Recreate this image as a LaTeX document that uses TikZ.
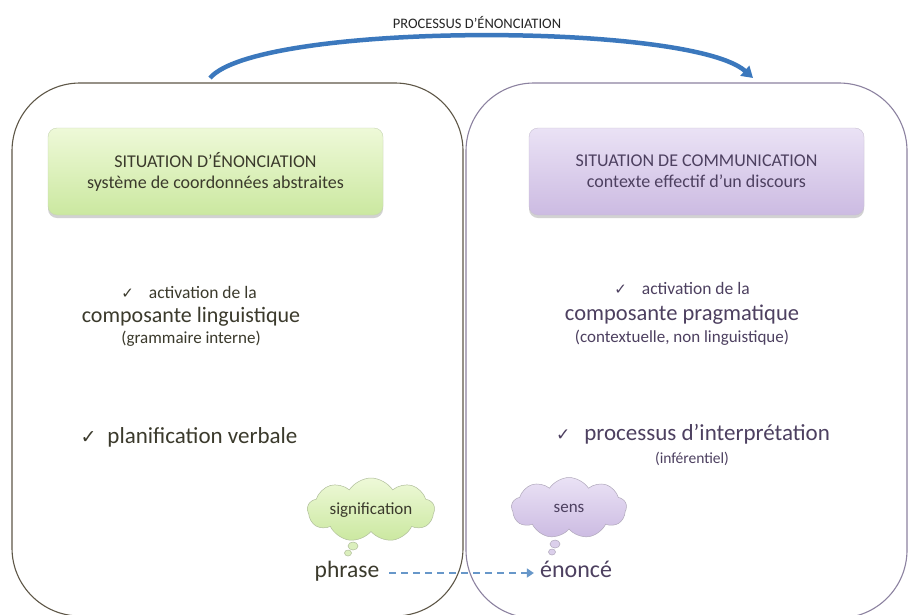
\documentclass[tikz,border=0pt]{standalone}
\usepackage{fontspec}
\setmainfont{Carlito}
\newfontfamily\symfont{DejaVu Sans}
\usetikzlibrary{arrows.meta,shapes.symbols,shadows}
\definecolor{encreG}{HTML}{3B3A2C}
\definecolor{encreD}{HTML}{4D4060}
\definecolor{traitG}{HTML}{5E5747}
\definecolor{traitD}{HTML}{8C82A0}
\definecolor{bleuArc}{HTML}{3B78BD}
\definecolor{bleuTiret}{HTML}{6797C9}
\definecolor{vertHaut}{HTML}{EEF9D8}
\definecolor{vertBas}{HTML}{CBE8A0}
\definecolor{violetHaut}{HTML}{EAE2F5}
\definecolor{violetBas}{HTML}{CCBBE2}
\newcommand{\coche}[1]{{\symfont\fontsize{#1}{#1}\selectfont ✓}}
\newcommand{\taille}[1]{\fontsize{#1}{#1}\selectfont}

\begin{document}
\begin{tikzpicture}[x=1pt, y=-1pt,
	grandcadre/.style={line width=1.1pt, rounded corners=68pt},
	boite/.style={rounded corners=9pt, line width=0.4pt, minimum width=335pt, minimum height=87pt,
		align=center, font=\fontsize{18}{21}\selectfont,
		drop shadow={opacity=0.35, shadow xshift=0pt, shadow yshift=-3pt}},
	texte/.style={anchor=base, inner sep=2pt},
	nuage/.style={cloud, cloud puffs=9, cloud puff arc=115, cloud ignores aspect, line width=0.5pt, inner sep=2pt, font=\taille{17}},
	bulle/.style={line width=0.5pt}]
		%%%%% START %%%%%
		
		\useasboundingbox (0,0) rectangle (909,614);
		\clip (0,0) rectangle (909,614);
		\fill[white] (0,0) rectangle (909,614);
		
		\draw[grandcadre, draw=traitG] (12,83) rectangle (463,616);
		\draw[grandcadre, draw=traitD] (466,83) rectangle (907,618);
		
		\node[texte, text=black!85] (titre) at (477,28) {\taille{14.5}PROCESSUS D’ÉNONCIATION};
		\coordinate (depart) at (210,78);
		\coordinate (arrivee) at (753,78);
		\draw[line width=4.5pt, color=bleuArc, -{Triangle[length=11pt,width=13pt]}] (depart) .. controls (258,22) and (690,22) .. (arrivee);
		
		\node[boite, draw=vertBas!80!black!60, top color=vertHaut, bottom color=vertBas, text=encreG] (sitEnon) at (215.5,171.5) {SITUATION D’ÉNONCIATION\\système de coordonnées abstraites};
		\node[boite, draw=violetBas!80!black!60, top color=violetHaut, bottom color=violetBas, text=encreD] (sitComm) at (696.5,171.5) {SITUATION DE COMMUNICATION\\contexte effectif d’un discours};
		
		\node[texte, text=encreG] (activG) at (189,298) {\taille{17.5}\coche{15}\hspace{15pt}activation de la};
		\node[texte, text=encreG] (compG) at (191,322) {\taille{22}composante linguistique};
		\node[texte, text=encreG] (grammG) at (191,343) {\taille{17}(grammaire interne)};
		\node[texte, text=encreG] (planG) at (189,443) {\taille{23}\coche{19}\hspace{11pt}planification verbale};
		
		\node[texte, text=encreD] (activD) at (682,294) {\taille{17.5}\coche{15}\hspace{15pt}activation de la};
		\node[texte, text=encreD] (compD) at (682,320) {\taille{22.5}composante pragmatique};
		\node[texte, text=encreD] (contD) at (682,342) {\taille{17}(contextuelle, non linguistique)};
		\node[texte, text=encreD] (interD) at (693,440) {\taille{23}\coche{17}\hspace{14pt}processus d’interprétation};
		\node[texte, text=encreD] (inferD) at (692,463) {\taille{15.5}(inférentiel)};
		
		\node[nuage, draw=vertBas!70!black!70, top color=vertHaut, bottom color=vertBas, text=encreG, minimum width=127pt, minimum height=64pt] (nuageSig) at (371,510) {signification};
		\draw[bulle, draw=vertBas!70!black!70, fill=vertBas!70!white] (353,546) ellipse (5 and 4);
		\draw[bulle, draw=vertBas!70!black!70, fill=vertBas!70!white] (348,553) ellipse (3.5 and 3);
		
		\node[nuage, draw=violetBas!70!black!70, top color=violetHaut, bottom color=violetBas, text=encreD, minimum width=115pt, minimum height=61pt] (nuageSens) at (569,508) {sens};
		\draw[bulle, draw=violetBas!70!black!70, fill=violetBas!70!white] (555,544) ellipse (5 and 4);
		\draw[bulle, draw=violetBas!70!black!70, fill=violetBas!70!white] (552,552) ellipse (3.5 and 3);
		
		\node[texte, text=encreG] (phrase) at (347,577) {\taille{23.5}phrase};
		\node[texte, text=encreD] (enonce) at (576,577) {\taille{24}énoncé};
		\draw[line width=2.6pt, color=bleuTiret, dash pattern=on 7pt off 5pt, shorten <=8pt, shorten >=4pt, -{Triangle[length=7pt,width=9pt]}] ([yshift=4pt]phrase.base east) -- ([yshift=4pt]enonce.base west);
		
		%%%%% END %%%%%
\end{tikzpicture}
\end{document}
